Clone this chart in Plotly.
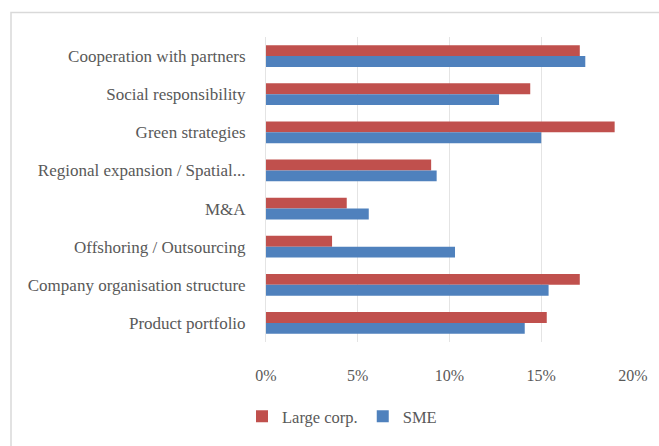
import plotly.graph_objects as go

# Strategy areas, listed from top to bottom
categories = [
    "Cooperation with partners",
    "Social responsibility",
    "Green strategies",
    "Regional expansion / Spatial...",
    "M&A",
    "Offshoring / Outsourcing",
    "Company organisation structure",
    "Product portfolio",
]

# Share of firms (%) per company size class
large_corp = [17.1, 14.4, 19.0, 9.0, 4.4, 3.6, 17.1, 15.3]
sme = [17.4, 12.7, 15.0, 9.3, 5.6, 10.3, 15.4, 14.1]

x_ticks = [0, 5, 10, 15, 20]
x_tick_labels = ["0%", "5%", "10%", "15%", "20%"]

W, H = 659, 446
L, R, T, B = 266, 26, 37, 98
plot_w = W - L - R
plot_h = H - T - B

fig = go.Figure()
fig.add_trace(go.Bar(
    y=categories, x=large_corp, name="Large corp.", orientation="h",
    marker=dict(color="#C0504D", line=dict(width=0)),
))
fig.add_trace(go.Bar(
    y=categories, x=sme, name="SME", orientation="h",
    marker=dict(color="#4F81BD", line=dict(width=0)),
))

def px_x(px):
    return (px - L) / plot_w

def px_y(py):
    return (H - B - py) / plot_h

# Light frame around the chart (right and bottom edges run off the page)
fig.add_shape(
    type="rect", xref="paper", yref="paper",
    x0=px_x(11), x1=px_x(680), y0=px_y(470), y1=px_y(12),
    line=dict(color="#D9D9D9", width=1.5), fillcolor="rgba(0,0,0,0)",
)

font_family = "Liberation Serif"
text_color = "#595959"

fig.update_layout(
    width=W, height=H,
    margin=dict(l=L, r=R, t=T, b=B, pad=0),
    paper_bgcolor="white", plot_bgcolor="white",
    barmode="group", bargap=0.43, bargroupgap=0.0,
    font=dict(family=font_family, size=16, color=text_color),
    showlegend=True,
    legend=dict(
        orientation="h", xref="paper", yref="paper",
        x=px_x(342), y=px_y(424), xanchor="center", yanchor="middle",
        font=dict(family=font_family, size=16.5, color=text_color),
        itemwidth=30, traceorder="normal", tracegroupgap=0,
    ),
    xaxis=dict(
        range=[0, 20], tickvals=x_ticks, ticktext=x_tick_labels,
        showgrid=True, gridcolor="#E4E4E4", gridwidth=1,
        zeroline=False, showline=False, ticks="",
        ticklabelstandoff=22,
        tickfont=dict(family=font_family, size=16, color=text_color),
        fixedrange=True,
    ),
    yaxis=dict(
        autorange="reversed", showgrid=False, zeroline=False,
        showline=True, linecolor="#E4E4E4", linewidth=1,
        ticks="", ticklabelstandoff=16,
        tickfont=dict(family=font_family, size=17, color=text_color),
    ),
)

fig.write_html("out.html")
